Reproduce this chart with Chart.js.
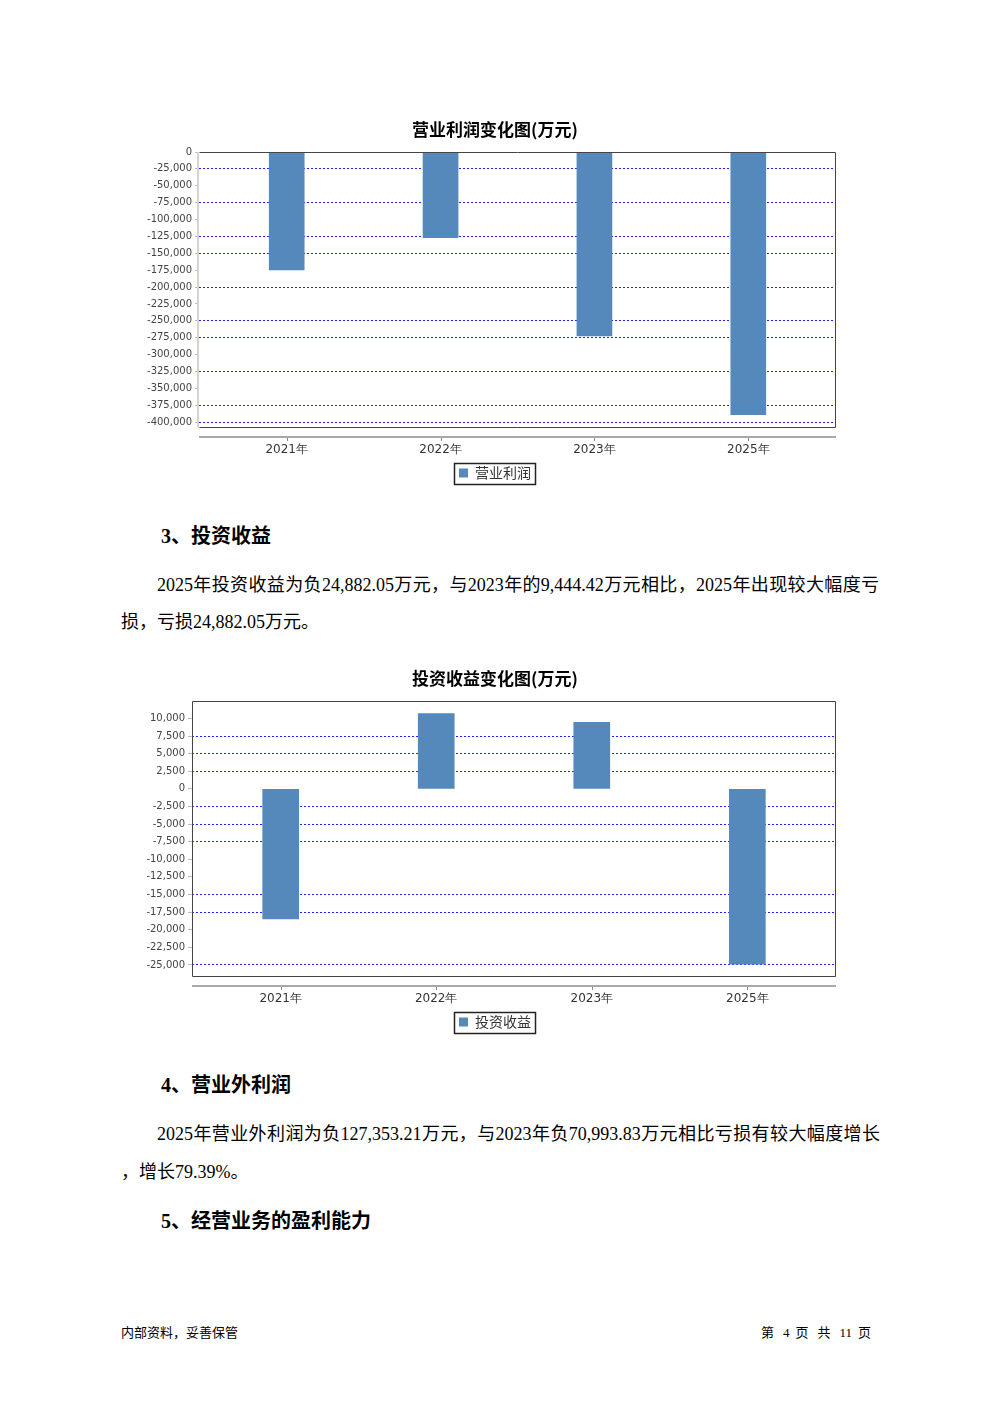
<!DOCTYPE html>
<html>
<head>
<meta charset="utf-8">
<title>营业利润 / 投资收益</title>
<script src="https://cdn.jsdelivr.net/npm/chart.js@4.4.1/dist/chart.umd.min.js"></script>
<style>
  body { margin: 0; background: #fff; width: 992px; height: 1403px; position: relative; overflow: hidden;
         font-family: "Liberation Serif", "Noto Sans CJK SC", serif; color: #000; }
  .abs { position: absolute; white-space: nowrap; }
  .h { font-size: 20px; font-weight: bold; line-height: 24px; }
  .p { font-size: 18px; line-height: 24px; }
  .j { text-align: justify; text-align-last: justify; }
  .foot { font-size: 13px; line-height: 16px; }
  canvas { position: absolute; left: 140px; }
</style>
</head>
<body>

<canvas id="profitChart" width="710" height="375" style="top:115px"></canvas>

<div class="abs h" style="left:161px; top:524px">3、投资收益</div>
<div class="abs p j" style="left:157px; top:573px; width:722px">2025年投资收益为负24,882.05万元，与2023年的9,444.42万元相比，2025年出现较大幅度亏</div>
<div class="abs p" style="left:121px; top:610px">损，亏损24,882.05万元。</div>

<canvas id="investChart" width="710" height="375" style="top:664px"></canvas>

<div class="abs h" style="left:161px; top:1073px">4、营业外利润</div>
<div class="abs p j" style="left:157px; top:1122px; width:723px">2025年营业外利润为负127,353.21万元，与2023年负70,993.83万元相比亏损有较大幅度增长</div>
<div class="abs p" style="left:121px; top:1160px">，增长79.39%。</div>
<div class="abs h" style="left:161px; top:1209px">5、经营业务的盈利能力</div>

<div class="abs foot" style="left:121px; top:1325px">内部资料，妥善保管</div>
<div class="abs foot j" style="left:761px; top:1325px; width:110px">第 4 页 共 11 页</div>

<script>
// --- dati ---
const categories = ['2021年', '2022年', '2023年', '2025年'];
const profitValues = [-174600, -127000, -272100, -388700];
const investValues = [-18480, 10690, 9444.42, -24882.05];

const profitTicks = [0, -25000, -50000, -75000, -100000, -125000, -150000, -175000, -200000,
                     -225000, -250000, -275000, -300000, -325000, -350000, -375000, -400000];
const investTicks = [10000, 7500, 5000, 2500, 0, -2500, -5000, -7500, -10000, -12500,
                     -15000, -17500, -20000, -22500, -25000];

// linee tratteggiate visibili solo su alcuni tick (come nell'originale)
const profitGridOn = [-25000, -75000, -125000, -150000, -200000, -250000, -275000, -325000, -375000, -400000];
const investGridOn = [7500, 5000, 2500, -2500, -5000, -7500, -15000, -17500, -25000];

const BAR = '#5588bb';
const fmt = new Intl.NumberFormat('en-US');

// cornice area grafico + asse x + bordo legenda
const framePlugin = {
  id: 'frame',
  afterLayout(chart) {
    // le etichette dell'asse y possono usare anche il margine sinistro (niente taglio)
    const ys = chart.scales.y;
    ys.left = 0;
  },
  afterDraw(chart, args, o) {
    const { ctx, chartArea: a } = chart;
    const L = Math.round(a.left) + 0.5, R = Math.round(a.right) - 0.5;
    const T = Math.round(a.top) + 0.5, B = Math.round(a.bottom) - 0.5;
    ctx.save();
    ctx.lineWidth = 1;
    ctx.strokeStyle = '#444';
    ctx.beginPath();
    ctx.moveTo(L, T); ctx.lineTo(R, T); ctx.lineTo(R, B); ctx.lineTo(L, B);
    if (!o.lightLeft) ctx.lineTo(L, T);
    ctx.stroke();
    if (o.lightLeft) {
      ctx.strokeStyle = '#d4d4d4';
      ctx.lineWidth = 2;
      ctx.beginPath(); ctx.moveTo(a.left - 1, a.top); ctx.lineTo(a.left - 1, a.bottom); ctx.stroke();
    }

    // asse categorie staccato dall'area
    const y = Math.round(a.bottom) + 9;
    ctx.strokeStyle = '#a8a8a8';
    ctx.lineWidth = 2;
    ctx.beginPath(); ctx.moveTo(a.left, y); ctx.lineTo(a.right, y); ctx.stroke();
    ctx.lineWidth = 1;
    ctx.strokeStyle = '#888';
    const xs = chart.scales.x;
    categories.forEach((c, i) => {
      const px = Math.round(xs.getPixelForValue(i)) + 0.5;
      ctx.beginPath(); ctx.moveTo(px, y + 1); ctx.lineTo(px, y + 4); ctx.stroke();
    });

    // riquadro legenda
    const hb = chart.legend.legendHitBoxes[0];
    if (hb) {
      const cy = hb.top + hb.height / 2;
      ctx.strokeStyle = '#222';
      ctx.lineWidth = 1.5;
      ctx.strokeRect(Math.round(hb.left) - 4.5, Math.round(cy - 10.5) + 0.5, Math.round(hb.width) + 9, 21);
    }
    ctx.restore();
  }
};

function makeChart(id, title, label, values, ticks, gridOn, yMin, yMax, yWidth, barW, lightLeft) {
  return new Chart(document.getElementById(id), {
    type: 'bar',
    data: {
      datasets: [{
        label: label,
        data: values.map((v, i) => ({ x: i, y: v })),
        backgroundColor: BAR,
        borderWidth: 0,
        barThickness: barW
      }]
    },
    options: {
      responsive: false,
      animation: false,
      layout: { padding: { left: 14, right: 14, top: 0, bottom: 0 } },
      scales: {
        x: {
          type: 'linear', min: -0.57, max: 3.57, offset: false,
          grid: { display: false, drawTicks: true, tickLength: 13, offset: false },
          border: { display: false },
          afterBuildTicks: s => { s.ticks = categories.map((c, i) => ({ value: i })); },
          ticks: {
            callback: v => categories[v],
            padding: 2, autoSkip: false, maxRotation: 0,
            color: '#333', font: { family: 'DejaVu Sans', size: 12 }
          }
        },
        y: {
          min: yMin, max: yMax,
          afterBuildTicks: s => { s.ticks = ticks.slice().sort((a, b) => a - b).map(v => ({ value: v })); },
          afterFit: s => { s.width = yWidth; },
          border: { display: false, dash: [2, 2] },
          grid: {
            color: c => (c.tick && gridOn.includes(c.tick.value)) ? '#2020ff' : 'rgba(0,0,0,0)',
            lineWidth: 1,
            drawTicks: true, tickLength: 4, tickColor: '#bdbdbd', tickWidth: 1, tickBorderDash: []
          },
          ticks: {
            callback: v => fmt.format(v),
            padding: 3, autoSkip: false,
            color: '#444', font: { family: 'DejaVu Sans', size: 10 }
          }
        }
      },
      plugins: {
        title: {
          display: true, text: title, color: '#000',
          font: { family: 'Noto Sans CJK SC', size: 17, weight: 'bold' },
          padding: { top: 4, bottom: 12.6 }
        },
        legend: {
          position: 'bottom',
          labels: {
            boxWidth: 9, boxHeight: 9, padding: 7, color: '#333',
            font: { family: 'Noto Sans CJK SC', size: 14 }
          }
        },
        tooltip: { enabled: false },
        frame: { lightLeft: lightLeft }
      }
    },
    plugins: [framePlugin]
  });
}

makeChart('profitChart', '营业利润变化图(万元)', '营业利润', profitValues, profitTicks, profitGridOn,
          -408000, 0, 45, 35, true);
makeChart('investChart', '投资收益变化图(万元)', '投资收益', investValues, investTicks, investGridOn,
          -26660, 12470, 38, 36, false);
</script>
</body>
</html>
